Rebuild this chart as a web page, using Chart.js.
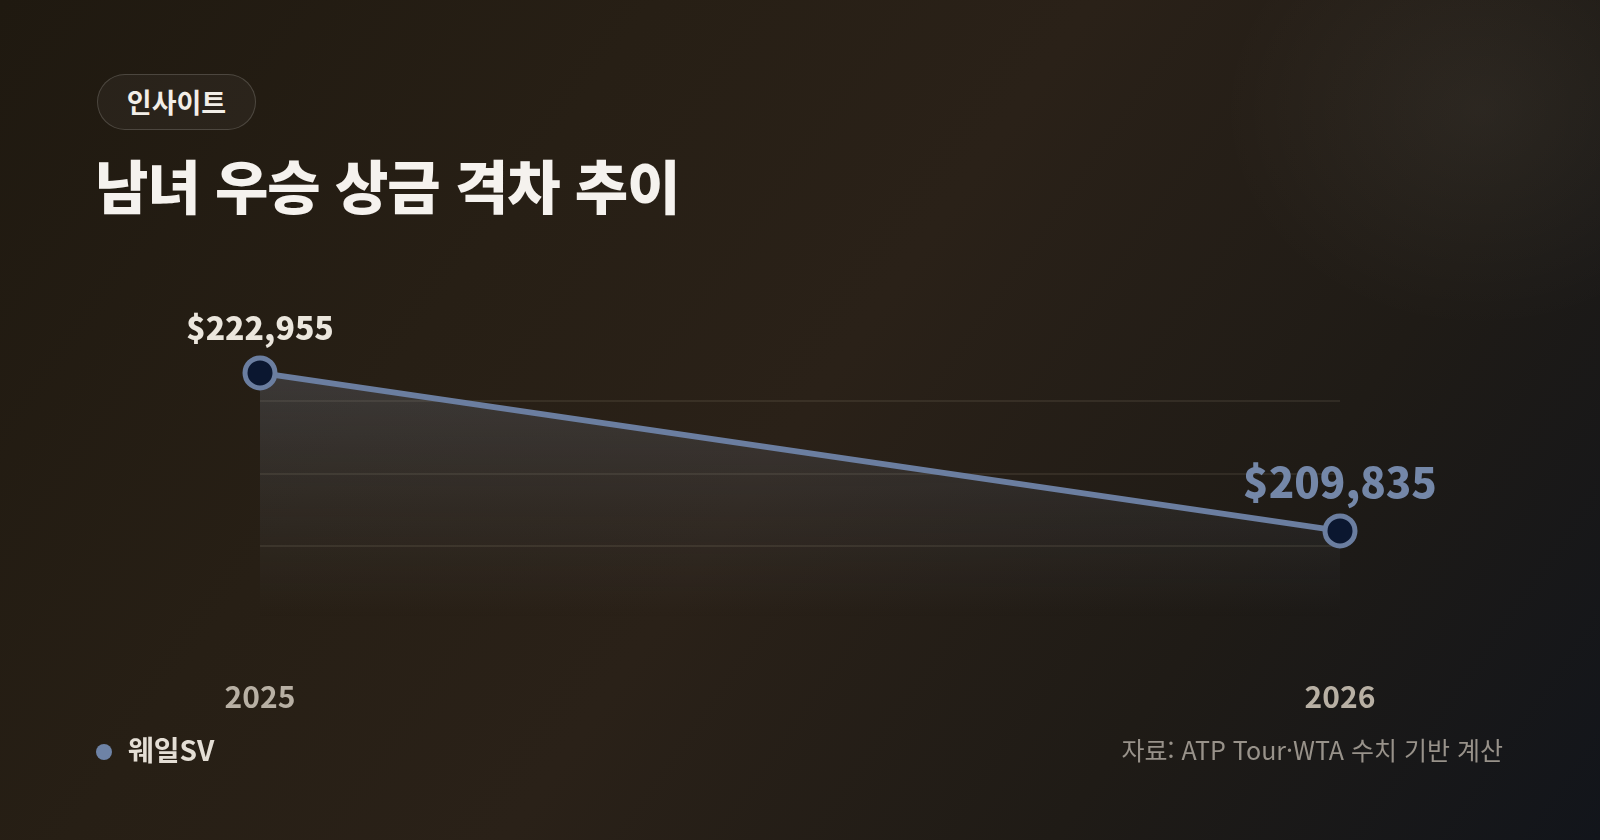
<!DOCTYPE html>
<html lang="ko">
<head>
<meta charset="utf-8">
<title>남녀 우승 상금 격차 추이</title>
<script src="https://cdn.jsdelivr.net/npm/chart.js@4.4.1/dist/chart.umd.min.js"></script>
<style>
  html, body {
    margin: 0;
    padding: 0;
    width: 1600px;
    height: 840px;
    overflow: hidden;
  }
  body {
    position: relative;
    font-family: "Noto Sans CJK KR", "Noto Sans", sans-serif;
    background:
      radial-gradient(ellipse 260px 220px at 1480px 110px, rgba(255, 245, 230, 0.05), rgba(255, 245, 230, 0) 100%),
      linear-gradient(125deg, #1f1910 0%, #271f15 30%, #2a2118 50%, #1f1b16 75%, #12151b 100%);
  }
  #chart {
    position: absolute;
    left: 0;
    top: 0;
  }
  .pill {
    position: absolute;
    left: 97px;
    top: 74px;
    height: 56px;
    width: 159px;
    box-sizing: border-box;
    border: 1px solid rgba(255, 255, 255, 0.16);
    border-radius: 28px;
    background: rgba(255, 255, 255, 0.04);
    color: #f2eee8;
    font-size: 27px;
    font-weight: 700;
    line-height: 54px;
    text-align: center;
  }
  h1 {
    position: absolute;
    left: 95px;
    top: 150px;
    margin: 0;
    color: #f5f2ee;
    font-size: 58px;
    font-weight: 900;
    letter-spacing: -1px;
    line-height: 1.2;
  }
  .legend {
    position: absolute;
    left: 96px;
    top: 729px;
    display: flex;
    align-items: center;
    color: #e4ded5;
    font-size: 28px;
    font-weight: 700;
  }
  .legend .dot {
    width: 16px;
    height: 16px;
    border-radius: 50%;
    margin-right: 16px;
    margin-top: 6px;
  }
  .source {
    position: absolute;
    right: 97px;
    top: 731px;
    color: #98928a;
    font-size: 25px;
    font-weight: 400;
  }
</style>
</head>
<body>
<div class="pill">인사이트</div>
<h1>남녀 우승 상금 격차 추이</h1>
<canvas id="chart" width="1600" height="840"></canvas>
<div class="legend" id="legend"></div>
<div class="source">자료: ATP Tour·WTA 수치 기반 계산</div>

<script>
// 연도별 남녀 우승 상금 격차 (USD)
const years = ['2025', '2026'];
const prizeGap = [222955, 209835];
const seriesName = '웨일SV';

const lineColor = '#6b7ea0';

// 값 위에 금액 라벨 그리기 (마지막 값은 강조)
const valueLabels = {
    id: 'valueLabels',
    afterDatasetsDraw(chart) {
        const ctx = chart.ctx;
        const meta = chart.getDatasetMeta(0);
        const values = chart.data.datasets[0].data;
        const last = values.length - 1;
        ctx.save();
        ctx.textAlign = 'center';
        ctx.textBaseline = 'alphabetic';
        meta.data.forEach((pt, i) => {
            const text = '$' + values[i].toLocaleString('en-US');
            if (i === last) {
                ctx.font = '900 42px "Noto Sans CJK KR", sans-serif';
                ctx.fillStyle = '#7487a8';
            } else {
                ctx.font = '900 32px "Noto Sans CJK KR", sans-serif';
                ctx.fillStyle = '#ebe6dd';
            }
            ctx.fillText(text, pt.x, pt.y - 33);
        });
        ctx.restore();
    }
};

function areaGradient(context) {
    const area = context.chart.chartArea;
    if (!area) return 'rgba(0,0,0,0)';
    const g = context.chart.ctx.createLinearGradient(0, area.top, 0, area.bottom);
    g.addColorStop(0, 'rgba(125, 136, 158, 0.30)');
    g.addColorStop(0.6, 'rgba(125, 136, 158, 0.11)');
    g.addColorStop(1, 'rgba(125, 136, 158, 0)');
    return g;
}

const ctx = document.getElementById('chart').getContext('2d');
const chart = new Chart(ctx, {
    type: 'line',
    data: {
        labels: years,
        datasets: [{
            label: seriesName,
            data: prizeGap,
            borderColor: lineColor,
            borderWidth: 6,
            backgroundColor: areaGradient,
            fill: 'start',
            tension: 0,
            clip: false,
            pointRadius: 15,
            pointHoverRadius: 15,
            pointBorderWidth: 5,
            pointBackgroundColor: '#0b1730',
            pointBorderColor: lineColor
        }]
    },
    options: {
        responsive: false,
        animation: false,
        events: [],
        layout: {
            padding: { left: 260, right: 260, top: 329, bottom: 64 }
        },
        plugins: {
            legend: { display: false },
            tooltip: { enabled: false }
        },
        scales: {
            x: {
                offset: false,
                grid: { display: false, drawTicks: false },
                border: { display: false },
                ticks: {
                    padding: 61,
                    color: '#b8b0a4',
                    font: { family: '"Noto Sans CJK KR", sans-serif', size: 30, weight: 600 }
                }
            },
            y: {
                min: 202600,
                max: 226600,
                border: { display: false },
                grid: {
                    drawTicks: false,
                    lineWidth: 2,
                    color: (c) => (c.index === 0 || c.index === 4) ? 'rgba(0,0,0,0)' : 'rgba(255, 236, 210, 0.08)'
                },
                ticks: { display: false, stepSize: 6000 }
            }
        }
    },
    plugins: [valueLabels]
});

// HTML 범례
const legendEl = document.getElementById('legend');
chart.data.datasets.forEach(ds => {
    const dot = document.createElement('span');
    dot.className = 'dot';
    dot.style.background = '#6e83a6';
    const name = document.createElement('span');
    name.textContent = ds.label;
    legendEl.appendChild(dot);
    legendEl.appendChild(name);
});
</script>
</body>
</html>
